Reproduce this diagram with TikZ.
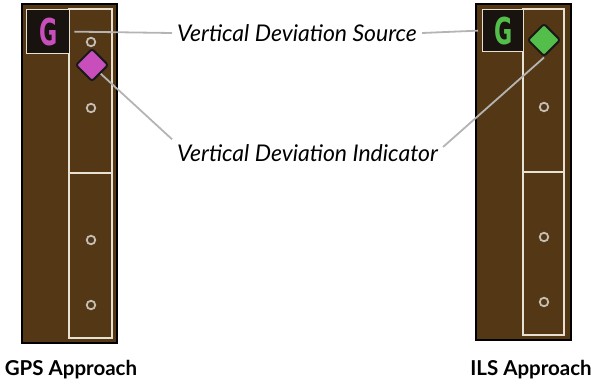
\documentclass[tikz,border=0pt]{standalone}
\usepackage{fontspec}
\setmainfont{Lato}
\newfontfamily\gfont{DejaVu Sans}
\usetikzlibrary{shapes.geometric}

\definecolor{panelbrown}{RGB}{84,56,22}
\definecolor{gboxdark}{RGB}{24,19,15}
\definecolor{vdimagenta}{RGB}{200,78,188}
\definecolor{vdigreen}{RGB}{84,190,74}
\definecolor{leadgray}{RGB}{180,180,180}
\definecolor{scaleline}{RGB}{232,224,208}
\definecolor{dotgray}{RGB}{196,190,180}

\newcommand\gletter[1]{\textcolor{#1}{\scalebox{0.6}[1]{\gfont\bfseries\fontsize{37}{37}\selectfont G}}}

\begin{document}
\begin{tikzpicture}
[
x=1pt, y=-1pt,
panel/.style={draw=black, line width=2.5pt, fill=panelbrown},
scalebox/.style={draw=scaleline, line width=1.3pt},
gbox/.style={scalebox, fill=gboxdark, minimum width=43pt, minimum height=44pt, inner sep=0pt, anchor=north west},
dot/.style={circle, draw=dotgray, line width=1.8pt, minimum size=8.5pt, inner sep=0pt},
vdi/.style={diamond, draw=black!90, line width=2pt, minimum size=33pt, inner sep=0pt, rounded corners=2.5pt},
lead/.style={draw=leadgray, line width=1.8pt},
caption/.style={font=\itshape\fontsize{23}{26}\selectfont, inner sep=5pt},
title/.style={font=\bfseries\fontsize{20.5}{24}\selectfont}
]
\useasboundingbox (0,0) rectangle (591,385);

% GPS approach
\draw[panel] (22,4) rectangle (117,343);
\draw[scalebox] (69,9) rectangle (112,338);
\draw[scalebox] (69,173) -- (112,173);
\node[gbox] (gpsG) at (26,9) {\gletter{vdimagenta}};
\foreach \y in {42,108,240,305}
  \node[dot] at (91,\y) {};
\node[vdi, fill=vdimagenta] (gpsvdi) at (92,65) {};

% ILS approach
\draw[panel] (476,4) rectangle (571,340);
\draw[scalebox] (523,9) rectangle (564,335);
\draw[scalebox] (523,172) -- (564,172);
\node[gbox, minimum width=41pt, minimum height=42pt] (ilsG) at (482,9) {\gletter{vdigreen}};
\foreach \y in {107,237,302}
  \node[dot] at (544,\y) {};
\node[vdi, fill=vdigreen] (ilsvdi) at (544,40) {};

% callouts
\node[caption, anchor=west] (src) at (172,33) {Vertical Deviation Source};
\node[caption, anchor=west] (ind) at (172,153) {Vertical Deviation Indicator};
\draw[lead] ([xshift=4pt]gpsG.east) -- (src.west);
\draw[lead] (src.east) -- ([xshift=-4pt]ilsG.west);
\draw[lead] (gpsvdi.south east) -- (ind.north west);
\draw[lead] (ilsvdi.south) -- ([yshift=6pt]ind.east);

\node[title] (gpscap) at (71,370) {GPS Approach};
\node[title] (ilscap) at (531,370) {ILS Approach};
\end{tikzpicture}
\end{document}
